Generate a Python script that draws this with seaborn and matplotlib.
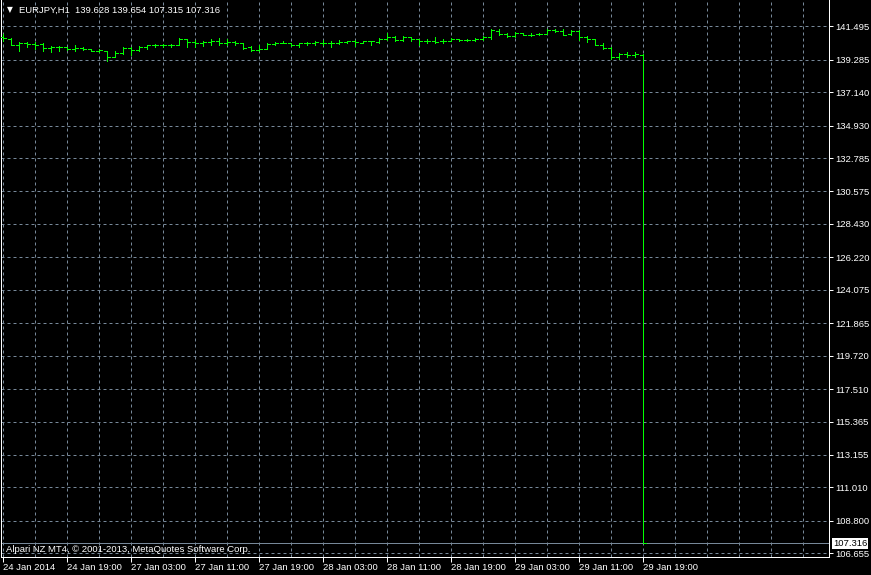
"""EURJPY H1 chart in MT4 style (black background, green OHLC bars)."""
import matplotlib
matplotlib.use("Agg")
import matplotlib.pyplot as plt
import matplotlib.transforms as mtransforms
import numpy as np
import pandas as pd
import seaborn as sns

# --- data --------------------------------------------------------------------
opens = [140.810, 140.677, 140.237, 140.369, 140.325, 140.325, 140.060, 140.104, 140.104, 139.972,
         140.060, 139.972, 139.884, 139.840, 139.487, 139.708, 140.060, 139.928, 140.104, 140.237,
         140.237, 140.237, 140.237, 140.633, 140.457, 140.413, 140.457, 140.545, 140.369, 140.457,
         140.369, 140.104, 139.928, 140.016, 140.325, 140.413, 140.369, 140.237, 140.369, 140.413,
         140.413, 140.369, 140.369, 140.457, 140.501, 140.413, 140.501, 140.457, 140.677, 140.810,
         140.589, 140.766, 140.633, 140.545, 140.545, 140.501, 140.501, 140.677, 140.589, 140.589,
         140.677, 140.766, 141.206, 140.986, 140.854, 141.030, 140.942, 140.986, 140.986, 141.250,
         141.206, 140.986, 141.162, 140.810, 140.633, 140.281, 140.060, 139.443, 139.664, 139.576,
         139.628]
highs = [140.986, 140.721, 140.435, 140.457, 140.435, 140.369, 140.171, 140.193, 140.149, 140.237,
         140.104, 140.016, 140.016, 139.884, 139.840, 140.104, 140.104, 140.193, 140.281, 140.325,
         140.325, 140.325, 140.721, 140.677, 140.589, 140.545, 140.633, 140.721, 140.633, 140.545,
         140.369, 140.193, 140.237, 140.369, 140.457, 140.501, 140.413, 140.413, 140.457, 140.545,
         140.589, 140.501, 140.589, 140.545, 140.589, 140.545, 140.545, 140.721, 141.030, 140.854,
         140.854, 140.766, 140.677, 140.677, 140.766, 140.633, 140.721, 140.677, 140.677, 140.721,
         140.854, 141.294, 141.294, 141.074, 141.118, 141.074, 141.074, 141.030, 141.294, 141.294,
         141.294, 141.250, 141.250, 140.854, 140.677, 140.369, 140.104, 139.708, 139.796, 139.796,
         139.654]
lows = [140.545, 140.237, 139.840, 140.149, 139.994, 139.884, 139.796, 139.840, 139.928, 139.884,
        139.928, 139.840, 139.796, 139.179, 139.443, 139.664, 139.620, 139.884, 140.016, 140.104,
        140.149, 140.149, 140.237, 140.149, 140.149, 140.193, 140.281, 140.281, 140.281, 140.237,
        139.972, 139.840, 139.840, 140.016, 140.281, 140.369, 140.193, 140.149, 140.281, 140.237,
        140.237, 140.149, 140.325, 140.413, 140.193, 140.369, 140.281, 140.369, 140.589, 140.545,
        140.545, 140.545, 140.237, 140.369, 140.413, 140.369, 140.501, 140.501, 140.545, 140.545,
        140.589, 140.677, 140.942, 140.766, 140.766, 140.898, 140.854, 140.898, 140.986, 141.118,
        140.898, 140.898, 140.589, 140.457, 140.237, 139.972, 139.355, 139.311, 139.487, 139.487,
        107.315]
closes = [140.721, 140.237, 140.413, 140.325, 140.281, 140.060, 140.104, 140.104, 139.972, 140.060,
          139.972, 139.884, 139.928, 139.443, 139.708, 140.060, 139.928, 140.149, 140.237, 140.237,
          140.281, 140.281, 140.633, 140.457, 140.413, 140.457, 140.545, 140.369, 140.457, 140.369,
          140.060, 139.928, 140.016, 140.325, 140.413, 140.413, 140.237, 140.369, 140.413, 140.457,
          140.369, 140.369, 140.457, 140.501, 140.457, 140.501, 140.501, 140.677, 140.810, 140.589,
          140.810, 140.633, 140.545, 140.545, 140.457, 140.501, 140.677, 140.589, 140.589, 140.633,
          140.766, 141.250, 140.986, 140.854, 141.030, 140.942, 140.942, 140.986, 141.250, 141.206,
          140.942, 141.162, 140.810, 140.633, 140.281, 140.060, 139.443, 139.664, 139.576, 139.664,
          107.316]

price_ticks = [141.495, 139.285, 137.140, 134.930, 132.785, 130.575, 128.430, 126.220, 124.075,
               121.865, 119.720, 117.510, 115.365, 113.155, 111.010, 108.800, 106.655]
date_labels = ["24 Jan 2014", "24 Jan 19:00", "27 Jan 03:00", "27 Jan 11:00", "27 Jan 19:00",
               "28 Jan 03:00", "28 Jan 11:00", "28 Jan 19:00", "29 Jan 03:00", "29 Jan 11:00",
               "29 Jan 19:00"]
bid_price = 107.316
title_text = "EURJPY,H1  139.628 139.654 107.315 107.316"
copyright_text = "Alpari NZ MT4, \u00a9 2001-2013, MetaQuotes Software Corp."

df = pd.DataFrame({"open": opens, "high": highs, "low": lows, "close": closes})
df["bar"] = np.arange(len(df))

# --- style --------------------------------------------------------------------
sns.set_theme(style="dark", rc={
    "figure.facecolor": "black",
    "axes.facecolor": "black",
    "axes.edgecolor": "white",
    "text.color": "white",
    "xtick.color": "white",
    "ytick.color": "white",
})
plt.rcParams["font.family"] = ["Liberation Sans", "DejaVu Sans"]

GREEN = "#00ff00"
GRID = "#778899"
W, H = 871, 575
PX = 0.72  # one pixel in points
FS = 6.8

fig = plt.figure(figsize=(W / 100, H / 100), dpi=100)
ax = fig.add_axes([1 / W, 18 / H, 828 / W, 557 / H])

# OHLC bars: crisp one-pixel lines like the terminal draws them
bar_kw = dict(color=GREEN, lw=PX, snap=True, antialiased=False, zorder=3)
ax.vlines(df["bar"], df["low"], df["high"], **bar_kw)
ax.hlines(df["open"], df["bar"] - 0.375, df["bar"], **bar_kw)
ax.hlines(df["close"], df["bar"], df["bar"] + 0.375, **bar_kw)

# bid line
ax.axhline(bid_price, color=GRID, lw=PX, snap=True, antialiased=False, zorder=2)

ax.set_xlim(-0.25, 103.25)
ax.set_ylim(106.41, 143.234)

# axes / ticks
ax.yaxis.tick_right()
ax.set_yticks(price_ticks)
ax.set_yticklabels([f"{v:.3f}" for v in price_ticks])
label_pos = np.arange(0, 8 * len(date_labels), 8)
ax.set_xticks(label_pos)
ax.set_xticklabels(date_labels, ha="left")
ax.set_xticks(np.arange(0, 104, 4), minor=True)
ax.tick_params(axis="x", which="major", direction="out", length=3.5, width=PX,
               pad=0.8, labelsize=FS, colors="white", bottom=True)
ax.tick_params(axis="x", which="minor", length=0)
ax.tick_params(axis="y", which="major", direction="out", length=3.0, width=PX,
               pad=1.2, labelsize=FS, colors="white", right=True, left=False)

ax.grid(True, which="both", axis="x", color=GRID, lw=PX, ls=(0, (3, 3)), snap=True)
ax.grid(True, which="major", axis="y", color=GRID, lw=PX, ls=(0, (3, 3)), snap=True)
ax.set_axisbelow(True)

for side in ("left", "right", "bottom"):
    ax.spines[side].set_visible(True)
    ax.spines[side].set_color("white")
    ax.spines[side].set_linewidth(PX)
ax.spines["top"].set_visible(False)

# bid price label on the right axis
trans = mtransforms.blended_transform_factory(ax.transAxes, ax.transData)
ax.text(1.0 + 4 / 828, bid_price, f"{bid_price:.3f}", transform=trans, ha="left", va="center",
        fontsize=FS, color="black", clip_on=False, zorder=5,
        bbox=dict(boxstyle="square,pad=0.12", fc="white", ec="none"))

# header and copyright
fig.text(7 / W, 1 - 10 / H, "\u25bc", fontsize=5.5, color="white", va="center", ha="left",
         family="DejaVu Sans")
fig.text(19 / W, 1 - 10 / H, title_text, fontsize=FS, color="white", va="center", ha="left")
fig.text(6 / W, 1 - 549 / H, copyright_text, fontsize=FS, color="white", va="center", ha="left")

fig.savefig("out.png", dpi=100, facecolor="black")
